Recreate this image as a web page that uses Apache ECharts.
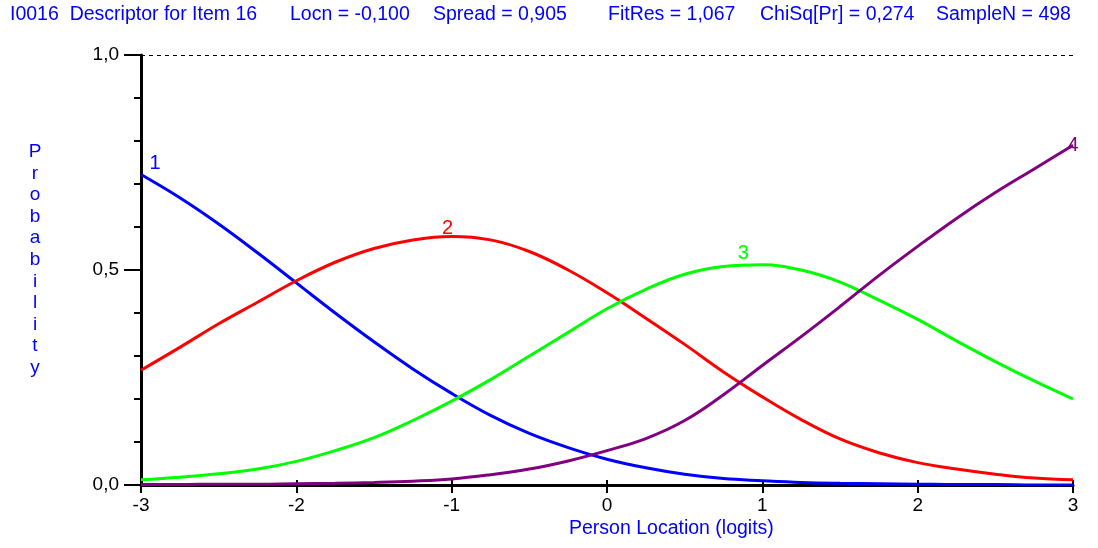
<!DOCTYPE html>
<html>
<head>
<meta charset="utf-8">
<script src="https://cdn.jsdelivr.net/npm/echarts@6/dist/echarts.min.js"></script>
<style>
  html, body { margin: 0; padding: 0; background: #fff; }
  #main { width: 1098px; height: 548px; }
</style>
</head>
<body>
<div id="main"></div>
<script>
// person location (logits)
const locations = [-3, -2.75, -2.5, -2.25, -2, -1.75, -1.5, -1.25, -1, -0.75, -0.5, -0.25, 0,
  0.25, 0.5, 0.75, 1, 1.25, 1.5, 1.75, 2, 2.25, 2.5, 2.75, 3];

// category probability curves
const cat1 = [0.722, 0.668, 0.607, 0.54, 0.47, 0.40, 0.333, 0.27, 0.213, 0.162, 0.12, 0.087, 0.06,
  0.04, 0.025, 0.015, 0.01, 0.006, 0.004, 0.003, 0.002, 0.001, 0.001, 0, 0];
const cat2 = [0.267, 0.32, 0.375, 0.425, 0.475, 0.518, 0.55, 0.57, 0.578, 0.57, 0.543, 0.50, 0.447,
  0.388, 0.327, 0.263, 0.205, 0.152, 0.107, 0.075, 0.052, 0.037, 0.025, 0.016, 0.012];
const cat3 = [0.012, 0.018, 0.026, 0.037, 0.055, 0.08, 0.11, 0.15, 0.195, 0.245, 0.30, 0.355, 0.41,
  0.455, 0.49, 0.508, 0.512, 0.50, 0.472, 0.43, 0.385, 0.335, 0.287, 0.242, 0.2];
const cat4 = [0.001, 0.001, 0.002, 0.002, 0.003, 0.004, 0.006, 0.009, 0.014, 0.024, 0.037, 0.056, 0.08,
  0.108, 0.15, 0.21, 0.278, 0.345, 0.415, 0.487, 0.555, 0.62, 0.68, 0.735, 0.79];

const curveNames = ['1', '2', '3', '4'];
const curveColors = ['#0000ff', '#ff0000', '#00ff00', '#800080'];
// index of the point each curve number sits next to
const labelAt = [0, 8, 16, 24];
const labelOffset = [[14, -11], [-4, -8], [-19, -11], [0, 0]];

const xTicks = [-3, -2, -1, 0, 1, 2, 3];
const yTickLabels = { 0: '0,0', 0.5: '0,5', 1: '1,0' };

const headerTexts = ['I0016  Descriptor for Item 16', 'Locn = -0,100', 'Spread = 0,905',
  'FitRes = 1,067', 'ChiSq[Pr] = 0,274', 'SampleN = 498'];
const headerLeft = [10, 290, 433, 608, 760, 936];

const FONT = '"Liberation Sans", Arial, sans-serif';
const BLUE = '#0000ff';

var allCurves = [cat1, cat2, cat3, cat4];

var series = allCurves.map(function (vals, k) {
  return {
    name: curveNames[k],
    type: 'line',
    smooth: 0.4,
    symbol: 'none',
    lineStyle: { color: curveColors[k], width: 3 },
    itemStyle: { color: curveColors[k] },
    data: locations.map(function (x, i) { return [x, vals[i]]; }),
    markPoint: {
      symbol: 'circle',
      symbolSize: 0,
      data: [{
        coord: [locations[labelAt[k]], vals[labelAt[k]]],
        label: {
          show: true,
          formatter: curveNames[k],
          offset: labelOffset[k],
          color: curveColors[k],
          fontFamily: FONT,
          fontSize: 20
        }
      }]
    }
  };
});

// dashed line along the top (probability 1)
series[0].markLine = {
  silent: true,
  symbol: 'none',
  label: { show: false },
  lineStyle: { color: '#000', type: [4, 4], width: 1.2 },
  data: [{ yAxis: 1 }]
};

var option = {
  animation: false,
  backgroundColor: '#fff',
  title: headerTexts.map(function (t, i) {
    return {
      text: t,
      left: headerLeft[i],
      top: 5,
      padding: 0,
      textStyle: { color: BLUE, fontFamily: FONT, fontSize: 19.5, fontWeight: 'normal' }
    };
  }),
  graphic: [
    {
      type: 'text',
      x: 35, y: 141,
      style: {
        text: 'Probability'.split('').join('\n'),
        fill: BLUE,
        font: '19px ' + FONT,
        align: 'center',
        lineHeight: 21.6
      }
    },
    {
      type: 'text',
      x: 569, y: 519,
      style: {
        text: 'Person Location (logits)',
        fill: BLUE,
        font: '19.5px ' + FONT
      }
    }
  ],
  grid: { left: 141, right: 25, top: 55, bottom: 63 },
  xAxis: [
    {
      type: 'value',
      min: -3, max: 3, interval: 1,
      axisLine: { onZero: false, lineStyle: { color: '#000', width: 3 } },
      axisTick: { show: true, inside: false, length: 8, lineStyle: { color: '#000', width: 2 } },
      axisLabel: {
        margin: 11,
        color: '#000',
        fontFamily: FONT,
        fontSize: 19,
        formatter: function (v) { return xTicks.indexOf(v) >= 0 ? String(v) : ''; }
      },
      splitLine: { show: false }
    },
    {
      // inner half of the crossing ticks
      type: 'value',
      position: 'bottom',
      min: -3, max: 3, interval: 1,
      axisLine: { show: false },
      axisTick: { show: true, inside: true, length: 5, lineStyle: { color: '#000', width: 2 } },
      axisLabel: { show: false },
      splitLine: { show: false }
    }
  ],
  yAxis: {
    type: 'value',
    min: 0, max: 1, interval: 0.5,
    axisLine: { show: true, onZero: false, lineStyle: { color: '#000', width: 3 } },
    axisTick: { show: true, length: 17, lineStyle: { color: '#000', width: 2 } },
    minorTick: { show: true, splitNumber: 5, length: 7, lineStyle: { color: '#000', width: 2 } },
    axisLabel: {
      margin: 22,
      color: '#000',
      fontFamily: FONT,
      fontSize: 19,
      formatter: function (v) { return yTickLabels[v] || ''; }
    },
    splitLine: { show: false }
  },
  series: series
};

var myChart = echarts.init(document.getElementById('main'));
myChart.setOption(option);
</script>
</body>
</html>
